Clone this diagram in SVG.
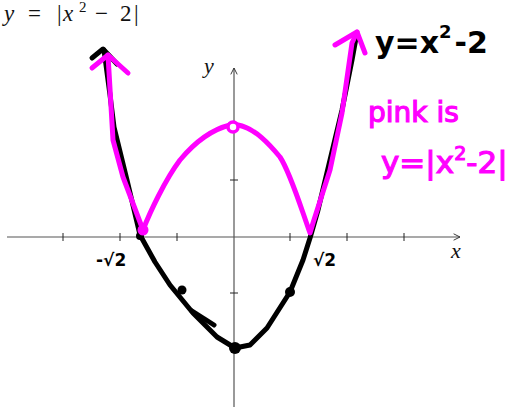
<svg xmlns="http://www.w3.org/2000/svg" width="516" height="407" viewBox="0 0 516 407">
<defs>
<style>
.axis{stroke:#555;stroke-width:1.2;fill:none}
.tick{stroke:#222;stroke-width:1;fill:none}
.blk{stroke:#000;stroke-width:5;fill:none;stroke-linecap:round;stroke-linejoin:round}
.pnk{stroke:#ff00ff;stroke-width:5;fill:none;stroke-linecap:round;stroke-linejoin:round}
.math{font-family:"Liberation Serif",serif;font-style:italic;fill:#111}
.up{font-style:normal}
.hand{font-family:"DejaVu Sans",sans-serif;font-weight:bold;fill:#000}
.phand{font-family:"DejaVu Sans",sans-serif;font-weight:normal;fill:#ff00ff;stroke:#ff00ff;stroke-width:1.2}
</style>
<marker id="ah" viewBox="0 0 10 10" refX="9" refY="5" markerWidth="8" markerHeight="8" orient="auto" markerUnits="userSpaceOnUse">
<path d="M1,1 L9,5 L1,9" fill="none" stroke="#333" stroke-width="1.2"/>
</marker>
</defs>
<rect width="516" height="407" fill="#fff"/>
<g id="title"><text class="math" y="21" font-size="23"><tspan x="4">y</tspan><tspan class="up" x="28">=</tspan><tspan class="up" x="57">|</tspan><tspan x="63">x</tspan><tspan class="up" x="79" dy="-9" font-size="15">2</tspan><tspan class="up" x="95" dy="9">−</tspan><tspan class="up" x="120">2</tspan><tspan class="up" x="134">|</tspan></text></g>
<g id="axes">
<line class="axis" x1="7" y1="237" x2="460" y2="237" marker-end="url(#ah)"/>
<line class="axis" x1="234" y1="407" x2="234" y2="68" marker-end="url(#ah)"/>
<path class="tick" d="M63,233V241M120,233V241M177,233V241M290,233V241M347,233V241M404,233V241M230,180H238M230,293H238"/>
<text class="math" x="451" y="258" font-size="22">x</text>
<text class="math" x="204" y="73" font-size="22">y</text>
</g>
<g id="black-curve">
<polyline class="blk" points="104,50 110,95 114,127 127,180 140,235 155,262 170,285 193,313 217,337 235,348 250,345 267,328 290,292 303,260 310,238 318,210 330,160 342,110 352,60 356,38"/>
<polyline class="blk" points="92,58 103,49 117,64"/>
<line class="blk" x1="192" y1="311" x2="214" y2="325"/>
<circle cx="182" cy="290" r="4.5"/>
<circle cx="235" cy="348" r="6"/>
<circle cx="290" cy="292" r="5"/>
<circle cx="140" cy="236" r="4"/>
</g>
<g id="pink-curve">
<path class="pnk" d="M108,55 L113,140 L123,177 L143,230 C150,212 165,180 180,160 C195,142 210,130 230,125"/>
<path class="pnk" d="M238,125 C255,128 270,145 280,157 C290,172 300,205 310,233 L313,223 L330,170 L342,113 L352,43 L357,32"/>
<polyline class="pnk" points="92,68 108,55 128,73"/>
<polyline class="pnk" points="335,45 357,32 365,53"/>
<circle cx="233" cy="127" r="5" fill="#fff" stroke="#ff00ff" stroke-width="3.5"/>
<circle cx="143" cy="230" r="5.5" fill="#ff00ff"/>
</g>
<g id="labels">
<text class="hand" x="96" y="266" font-size="17">-√2</text>
<text class="hand" x="313" y="266" font-size="17">√2</text>
<text class="hand" x="375" y="53" font-size="30">y=x<tspan dy="-15" font-size="18">2</tspan><tspan dy="15" dx="3">-2</tspan></text>
<text class="phand" x="368" y="122" font-size="28">pink is</text>
<text class="phand" x="381" y="173" font-size="31">y=|x<tspan dy="-13" font-size="19">2</tspan><tspan dy="13">-2|</tspan></text>
</g>
</svg>
